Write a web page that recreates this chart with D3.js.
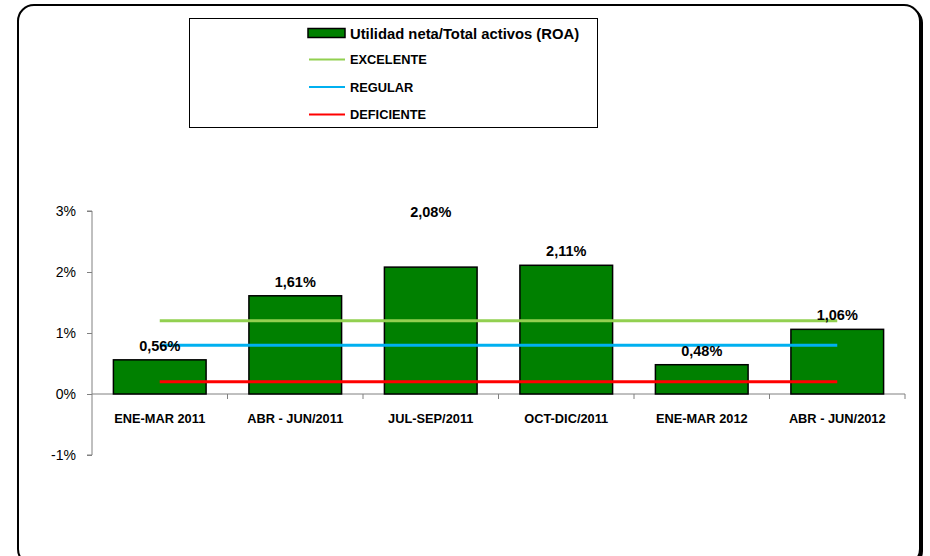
<!DOCTYPE html>
<html><head><meta charset="utf-8">
<script src="https://cdn.jsdelivr.net/npm/d3@7"></script>
<style>body{margin:0;background:#fff}svg{display:block;font-family:"Liberation Sans",Arial,sans-serif}</style>
</head><body><svg id="c" width="930" height="556"></svg>
<script>
const categories = ["ENE-MAR 2011","ABR - JUN/2011","JUL-SEP/2011","OCT-DIC/2011","ENE-MAR 2012","ABR - JUN/2012"];
const roa = [0.56, 1.61, 2.08, 2.11, 0.48, 1.06];
const roaLabels = ["0,56%","1,61%","2,08%","2,11%","0,48%","1,06%"];
const excelente = [1.2,1.2,1.2,1.2,1.2,1.2];
const regular = [0.8,0.8,0.8,0.8,0.8,0.8];
const deficiente = [0.2,0.2,0.2,0.2,0.2,0.2];
const yTicks = [-1,0,1,2,3];
const seriesNames = ["Utilidad neta/Total activos (ROA)","EXCELENTE","REGULAR","DEFICIENTE"];
const lineColors = ["#92D050","#00B0F0","#FF0000"];

const svg = d3.select("#c");
// outer rounded frame with shadow
svg.append("rect").attr("x",21).attr("y",7).attr("width",902).attr("height",560)
  .attr("rx",16).attr("fill","#000");
svg.append("rect").attr("x",18).attr("y",5).attr("width",902).attr("height",560)
  .attr("rx",16).attr("fill","#fff").attr("stroke","#000").attr("stroke-width",2);

const x = d3.scaleBand().domain(categories).range([92,905]).paddingInner(0.316).paddingOuter(0.158);
const y = d3.scaleLinear().domain([-1,3]).range([455,211]);

// y axis
const ya = svg.append("g").attr("transform","translate(92,0)")
  .call(d3.axisLeft(y).tickValues(yTicks).tickSize(5).tickPadding(11).tickFormat(d=>d+"%"));
ya.select(".domain").attr("stroke","#808080").attr("d","M-5,"+y(3)+"H0V"+y(-1)+"H-5");
ya.selectAll(".tick line").attr("stroke","#808080");
ya.selectAll(".tick text").attr("font-size",14).attr("fill","#000").attr("font-family","Liberation Sans, Arial, sans-serif");

// x axis at zero
const xa = svg.append("g").attr("transform","translate(0,"+y(0)+")");
xa.append("line").attr("x1",92).attr("x2",905).attr("stroke","#808080");
const step = x.step();
d3.range(1,categories.length+1).forEach(i=>{
  const bx = 92 + i*step;
  xa.append("line").attr("x1",bx).attr("x2",bx).attr("y1",0).attr("y2",5).attr("stroke","#808080");
});
svg.selectAll(".cat").data(categories).enter().append("text")
  .attr("x",d=>x(d)+x.bandwidth()/2).attr("y",y(0)+29)
  .attr("text-anchor","middle").attr("font-size",12.8).attr("font-weight","bold").text(d=>d);

// bars
svg.selectAll(".bar").data(roa).enter().append("rect")
  .attr("x",(d,i)=>x(categories[i])).attr("width",x.bandwidth())
  .attr("y",d=>y(d)).attr("height",d=>y(0)-y(d))
  .attr("fill","#008000").attr("stroke","#000").attr("stroke-width",1.5);

// reference lines (from first to last category center)
[excelente,regular,deficiente].forEach((s,k)=>{
  const line = d3.line().x((d,i)=>x(categories[i])+x.bandwidth()/2).y(d=>y(d));
  svg.append("path").datum(s).attr("d",line).attr("fill","none")
    .attr("stroke",lineColors[k]).attr("stroke-width",3);
});

// data labels (JUL-SEP label sits near the top of the axis, as in the original)
svg.selectAll(".lbl").data(roa).enter().append("text")
  .attr("x",(d,i)=>x(categories[i])+x.bandwidth()/2)
  .attr("y",(d,i)=> i===2 ? y(2.98)+5 : y(d)-9)
  .attr("text-anchor","middle").attr("font-size",14.5).attr("font-weight","bold")
  .text((d,i)=>roaLabels[i]);

// legend
const lg = svg.append("g");
lg.append("rect").attr("x",189.5).attr("y",18.5).attr("width",408).attr("height",109)
  .attr("fill","#fff").attr("stroke","#000").attr("stroke-width",1);
lg.append("rect").attr("x",308).attr("y",28.5).attr("width",37).attr("height",9)
  .attr("fill","#008000").attr("stroke","#000").attr("stroke-width",1.5);
lg.append("text").attr("x",350).attr("y",38.5).attr("font-size",14.8).attr("font-weight","bold").text(seriesNames[0]);
[59.5,87,114.5].forEach((ly,k)=>{
  lg.append("line").attr("x1",309).attr("x2",345).attr("y1",ly).attr("y2",ly)
    .attr("stroke",lineColors[k]).attr("stroke-width",2);
  lg.append("text").attr("x",350).attr("y",ly+4.5).attr("font-size",12.8).attr("font-weight","bold").text(seriesNames[k+1]);
});
</script></body></html>
